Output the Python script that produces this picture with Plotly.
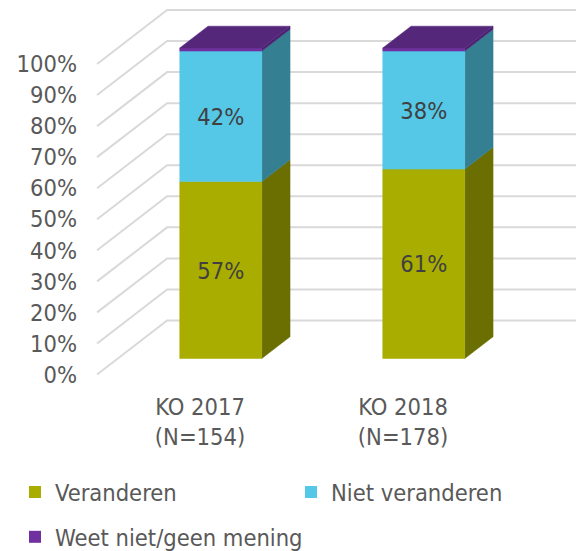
import plotly.graph_objects as go

# ---- data ----
categories = ["KO 2017<br>(N=154)", "KO 2018<br>(N=178)"]
series_names = ["Veranderen", "Niet veranderen", "Weet niet/geen mening"]
veranderen = [57, 61]
niet_veranderen = [42, 38]
weet_niet = [1, 1]
tick_values = list(range(0, 101, 10))
tick_labels = [f"{v}%" for v in tick_values]

series_values = [veranderen, niet_veranderen, weet_niet]
show_label = [True, True, False]

# ---- style ----
front_colors = ["#A9AD00", "#55C8E8", "#7030A0"]
side_colors = ["#6B6E00", "#357F92", "#4A2170"]
top_color = "#55277A"
grid_color = "#D9D9D9"
text_color = "#595959"
label_color = "#404040"
FONT = "DejaVu Sans Condensed, DejaVu Sans, sans-serif"
FS = 23.5

# 3D projection parameters (x in category units, y in percent)
DX, DY = 0.345, 17.39       # screen offset for full depth
Z_FRONT, Z_BACK = 0.296, 0.70
HALF_W = 0.202
WALL_X = -0.507
X_MAX = 1.852
LABEL_DY = -0.9             # small optical shift of data labels


def proj(x, y, z):
    return x + z * DX, y + z * DY


def poly(points):
    xs, ys = zip(*[proj(*p) for p in points])
    return list(xs) + [xs[0]], list(ys) + [ys[0]]


fig = go.Figure()

# gridlines on side wall + back wall
for v in tick_values:
    x0, y0 = proj(WALL_X, v, 0)
    x1, y1 = proj(WALL_X, v, 1)
    fig.add_trace(go.Scatter(x=[x0, x1, X_MAX], y=[y0, y1, y1], mode="lines",
                             line=dict(color=grid_color, width=2),
                             hoverinfo="skip", showlegend=False))

# bars
for i, cat in enumerate(categories):
    base = 0
    n = len(series_values)
    for s in range(n):
        val = series_values[s][i]
        top = base + val
        # side face
        xs, ys = poly([(i + HALF_W, base, Z_FRONT), (i + HALF_W, base, Z_BACK),
                       (i + HALF_W, top, Z_BACK), (i + HALF_W, top, Z_FRONT)])
        fig.add_trace(go.Scatter(x=xs, y=ys, fill="toself", mode="lines",
                                 fillcolor=side_colors[s],
                                 line=dict(color=side_colors[s], width=0.5),
                                 hoverinfo="skip", showlegend=False))
        # front face
        xs, ys = poly([(i - HALF_W, base, Z_FRONT), (i + HALF_W, base, Z_FRONT),
                       (i + HALF_W, top, Z_FRONT), (i - HALF_W, top, Z_FRONT)])
        fig.add_trace(go.Scatter(x=xs, y=ys, fill="toself", mode="lines",
                                 fillcolor=front_colors[s],
                                 line=dict(color=front_colors[s], width=0.5),
                                 hoverinfo="skip", showlegend=False))
        if s == n - 1:
            xs, ys = poly([(i - HALF_W, top, Z_FRONT), (i + HALF_W, top, Z_FRONT),
                           (i + HALF_W, top, Z_BACK), (i - HALF_W, top, Z_BACK)])
            fig.add_trace(go.Scatter(x=xs, y=ys, fill="toself", mode="lines",
                                     fillcolor=top_color,
                                     line=dict(color=top_color, width=0.5),
                                     hoverinfo="skip", showlegend=False))
        if show_label[s]:
            lx, ly = proj(i, (base + top) / 2 + LABEL_DY, Z_FRONT)
            fig.add_trace(go.Scatter(x=[lx], y=[ly], mode="text", text=[f"{val}%"],
                                     textfont=dict(family=FONT, size=FS, color=label_color),
                                     hoverinfo="skip", showlegend=False))
        base = top

# legend entries
for s, name in enumerate(series_names):
    fig.add_trace(go.Scatter(x=[None], y=[None], mode="markers", name=name,
                             marker=dict(symbol="square", size=12, color=front_colors[s]),
                             legend="legend" if s < 2 else "legend2"))

fig.update_layout(
    width=576, height=551,
    margin=dict(l=78, r=0, t=0, b=161, autoexpand=False),
    paper_bgcolor="white", plot_bgcolor="white",
    font=dict(family=FONT, size=FS, color=text_color),
    xaxis=dict(range=[-0.601, X_MAX], tickvals=list(range(len(categories))),
               ticktext=categories, showgrid=False, zeroline=False, showline=False,
               ticks="", automargin=False,
               tickfont=dict(family=FONT, size=FS, color=text_color)),
    yaxis=dict(range=[-4.99, 120.61], tickvals=tick_values, ticktext=tick_labels,
               showgrid=False, zeroline=False, showline=False, ticks="", automargin=False,
               tickfont=dict(family=FONT, size=FS, color=text_color)),
    legend=dict(orientation="h", x=-0.1265, y=-0.262, xanchor="left", yanchor="middle",
                entrywidth=231, entrywidthmode="pixels",
                font=dict(family=FONT, size=FS, color=text_color), itemclick=False),
    legend2=dict(orientation="h", x=-0.1265, y=-0.377, xanchor="left", yanchor="middle",
                 font=dict(family=FONT, size=FS, color=text_color), itemclick=False),
    showlegend=True,
)

fig.write_html("out.html", config={"displayModeBar": False},
               post_script="document.body.style.margin='0';")
